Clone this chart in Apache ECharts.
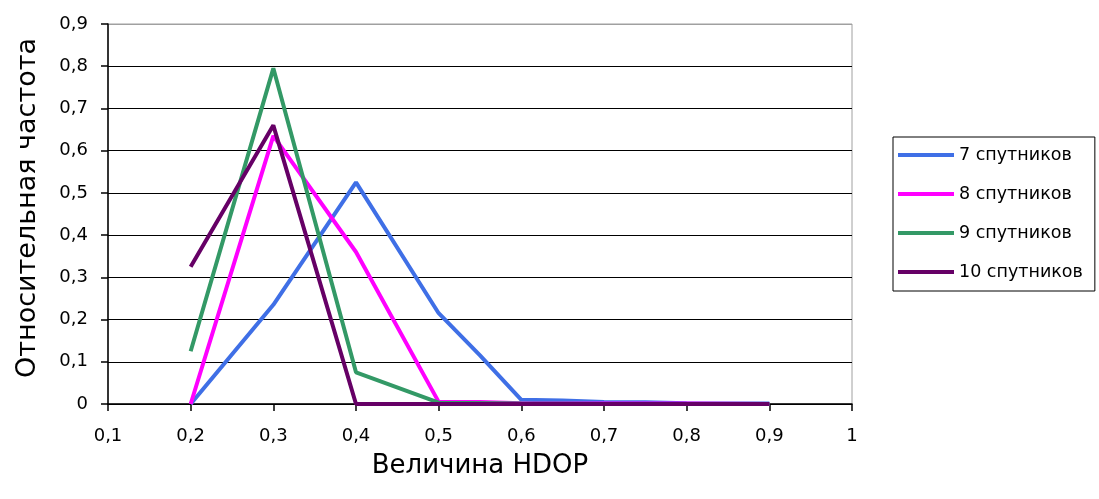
<!DOCTYPE html>
<html>
<head>
<meta charset="utf-8">
<script src="https://cdn.jsdelivr.net/npm/echarts@6/dist/echarts.min.js"></script>
<style>html,body{margin:0;padding:0;background:#fff}#c{width:1099px;height:499px}</style>
</head>
<body>
<div id="c"></div>
<script>
var seriesNames = ['7 спутников', '8 спутников', '9 спутников', '10 спутников'];
var x7 = [0.2, 0.3, 0.4, 0.5, 0.55, 0.6, 0.65, 0.7, 0.75, 0.8, 0.9];
var y7 = [0, 0.235, 0.525, 0.215, 0.115, 0.01, 0.008, 0.005, 0.004, 0.002, 0.001];
var x8 = [0.2, 0.3, 0.4, 0.5, 0.55, 0.6, 0.7, 0.8, 0.9];
var y8 = [0, 0.635, 0.36, 0.005, 0.005, 0.002, 0.001, 0.001, 0];
var x9 = [0.2, 0.3, 0.4, 0.5, 0.6, 0.7, 0.8, 0.9];
var y9 = [0.125, 0.795, 0.075, 0.003, 0.001, 0, 0, 0];
var x10 = [0.2, 0.3, 0.4, 0.5, 0.6, 0.7, 0.8, 0.9];
var y10 = [0.325, 0.66, 0, 0, 0, 0, 0, 0];
var colors = ['#3f6fe6', '#ff00ff', '#339966', '#660066'];
var xAxisTitle = 'Величина HDOP';
var yAxisTitle = 'Относительная частота';

function pairs(xs, ys) { return xs.map(function (x, i) { return [x, ys[i]]; }); }
function fmt(v) { return String(Number(v.toFixed(1))).replace('.', ','); }
var font = 'DejaVu Sans, sans-serif';

var allX = [x7, x8, x9, x10];
var allY = [y7, y8, y9, y10];
var series = seriesNames.map(function (n, i) {
  return {
    name: n, type: 'line', data: pairs(allX[i], allY[i]),
    showSymbol: false, symbol: 'none',
    lineStyle: { color: colors[i], width: 4 },
    itemStyle: { color: colors[i] },
    z: 2 + i
  };
});

var chart = echarts.init(document.getElementById('c'), null, { renderer: 'canvas' });
chart.setOption({
  animation: false,
  backgroundColor: '#fff',
  grid: { left: 108, right: 247, top: 24, bottom: 95, show: true, borderColor: '#a0a0a0', borderWidth: 1, backgroundColor: 'transparent' },
  legend: {
    orient: 'vertical', left: 893, top: 137,
    data: seriesNames.map(function (n, i) { return { name: n, icon: 'rect', itemStyle: { color: colors[i] } }; }),
    itemWidth: 56, itemHeight: 4, itemGap: 19,
    padding: [8, 12, 9, 5],
    borderColor: '#000', borderWidth: 1,
    textStyle: { fontFamily: font, fontSize: 17.5, lineHeight: 20, color: '#000' }
  },
  xAxis: {
    type: 'value', min: 0.1, max: 1, interval: 0.1,
    name: xAxisTitle, nameLocation: 'middle', nameGap: 49,
    nameTextStyle: { fontFamily: font, fontSize: 26, color: '#000' },
    axisLine: { show: true, onZero: false, lineStyle: { color: '#000', width: 1.5 } },
    axisTick: { show: true, length: 7, lineStyle: { color: '#000', width: 1.5 } },
    axisLabel: { formatter: fmt, fontFamily: font, fontSize: 18, color: '#000', margin: 23 },
    splitLine: { show: false }
  },
  yAxis: {
    type: 'value', min: 0, max: 0.9, interval: 0.1,
    name: yAxisTitle, nameLocation: 'middle', nameGap: 67, nameRotate: 90,
    nameTextStyle: { fontFamily: font, fontSize: 27, color: '#000', padding: [0, 0, 0, 12] },
    axisLine: { show: true, lineStyle: { color: '#000', width: 1.5 } },
    axisTick: { show: true, length: 7, lineStyle: { color: '#000', width: 1.5 } },
    axisLabel: { formatter: fmt, fontFamily: font, fontSize: 18, color: '#000', margin: 20 },
    splitLine: { show: true, lineStyle: { color: ['#000', '#000', '#000', '#000', '#000', '#000', '#000', '#000', '#000', '#a0a0a0'], width: 1.2 } }
  },
  series: series
});
</script>
</body>
</html>
